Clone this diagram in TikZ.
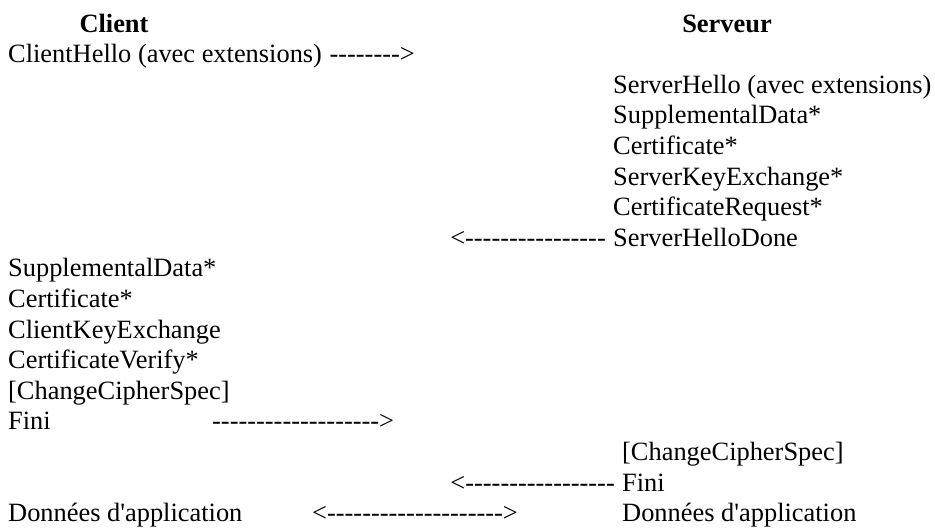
\documentclass[tikz,border=0pt]{standalone}
\usepackage{fontspec}
\setmainfont{Liberation Serif}[Ligatures=TeXOff]
\usepackage{tikz}
\usetikzlibrary{positioning}

\begin{document}
\begin{tikzpicture}[
  x=1pt, y=-1pt,
  msg/.style={inner sep=0pt, anchor=base west,
              font=\fontsize{26.4}{30.6}\selectfont},
  head/.style={msg, anchor=base, font=\fontsize{26.4}{30.6}\selectfont\bfseries},
  arr/.style={msg},
  larr/.style={msg, anchor=base east}
]
\useasboundingbox (0,0) rectangle (935,530);

% en-tetes
\node[head] (cli) at (114,32) {Client};
\node[head] (srv) at (727,32) {Serveur};

% client -> serveur
\node[msg] (chello) at (8,62.6) {ClientHello (avec extensions)};
\node[larr] (a1) at (415,62.6) {-------->};

% reponse du serveur
\node[msg] (shello) at (613,93.2)  {ServerHello (avec extensions)};
\node[msg] (ssupp)  at (613,123.8) {SupplementalData*};
\node[msg] (scert)  at (613,154.4) {Certificate*};
\node[msg] (skex)   at (613,185)   {ServerKeyExchange*};
\node[msg] (sreq)   at (613,215.6) {CertificateRequest*};
\node[msg] (sdone)  at (613,246.2) {ServerHelloDone};
\node[larr] (a2) at (606,246.2) {<----------------};

% client
\node[msg] (csupp) at (8,276.8) {SupplementalData*};
\node[msg] (ccert) at (8,307.4) {Certificate*};
\node[msg] (ckex)  at (8,338)   {ClientKeyExchange};
\node[msg] (cver)  at (8,368.6) {CertificateVerify*};
\node[msg] (cccs)  at (8,399.2) {[ChangeCipherSpec]};
\node[msg] (cfin)  at (8,429.8) {Fini};
\node[arr] (a3) at (212,429.8) {------------------->};

% serveur
\node[msg] (sccs) at (622,460.4) {[ChangeCipherSpec]};
\node[msg] (sfin) at (622,491)   {Fini};
\node[larr] (a4) at (615,491) {<-----------------};

% donnees
\node[msg] (capp) at (8,521.6)   {Données d'application};
\node[msg] (sapp) at (622,521.6) {Données d'application};
\node[arr] (a5) at (312,521.6) {<-------------------->};
\end{tikzpicture}
\end{document}
